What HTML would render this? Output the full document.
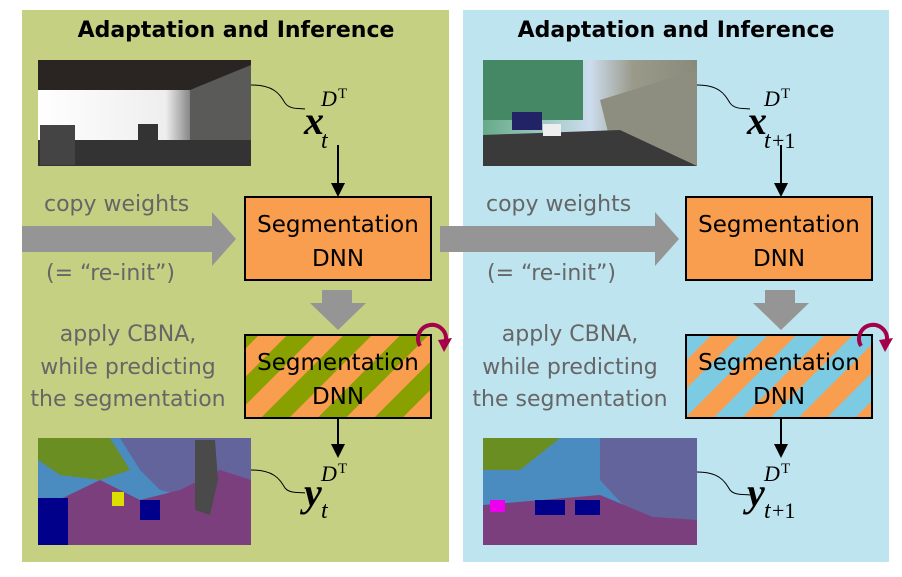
<!DOCTYPE html>
<html><head><meta charset="utf-8"><style>
body{margin:0;width:902px;height:572px;background:#fff;overflow:hidden}
</style></head><body>
<svg width="902" height="572" viewBox="0 0 902 572" xmlns="http://www.w3.org/2000/svg" font-family="DejaVu Sans, Liberation Sans, sans-serif">
<defs>
<pattern id="sg" width="40" height="40" patternUnits="userSpaceOnUse" patternTransform="rotate(45)">
<rect width="40" height="40" fill="#f99d4e"/><rect width="20" height="40" fill="#88a000"/></pattern>
<pattern id="sb" width="40" height="40" patternUnits="userSpaceOnUse" patternTransform="rotate(45)">
<rect width="40" height="40" fill="#f99d4e"/><rect width="20" height="40" fill="#7ccbe2"/></pattern>
<linearGradient id="tun" x1="0" y1="0" x2="1" y2="0"><stop offset="0" stop-color="#fff"/><stop offset="0.6" stop-color="#eee"/><stop offset="0.75" stop-color="#666"/><stop offset="1" stop-color="#555"/></linearGradient>
<linearGradient id="hw" x1="0" y1="0" x2="1" y2="0"><stop offset="0" stop-color="#6a8"/><stop offset="0.5" stop-color="#cde"/><stop offset="0.7" stop-color="#9a9a8a"/><stop offset="1" stop-color="#8a8a7a"/></linearGradient>
</defs>
<rect x="22" y="10" width="427" height="552" fill="#c5d083"/>
<rect x="463" y="10" width="426" height="552" fill="#bee4ef"/>
<text x="236" y="37" font-size="22" font-weight="bold" text-anchor="middle">Adaptation and Inference</text>
<text x="676" y="37" font-size="22" font-weight="bold" text-anchor="middle">Adaptation and Inference</text>

<!-- image 1 -->
<rect x="38" y="60" width="213" height="106" fill="url(#tun)"/>
<rect x="38" y="60" width="213" height="30" fill="#2a2522"/>
<polygon points="190,90 251,65 251,166 190,150" fill="#5a5a58"/>
<polygon points="38,140 251,140 251,166 38,166" fill="#333"/>
<rect x="40" y="125" width="35" height="40" fill="#444"/><rect x="138" y="124" width="20" height="16" fill="#333"/>
<!-- image 2 -->
<rect x="483" y="60" width="214" height="106" fill="url(#hw)"/>
<rect x="483" y="60" width="100" height="60" fill="#486"/>
<polygon points="600,100 697,70 697,166 610,140" fill="#8e8e80"/>
<polygon points="483,135 620,130 697,166 483,166" fill="#3a3a3a"/>
<rect x="512" y="112" width="30" height="18" fill="#226"/>
<rect x="543" y="124" width="18" height="12" fill="#eee"/>
<!-- seg 1 -->
<rect x="38" y="438" width="213" height="107" fill="#64649c"/>
<path d="M38 438 H120 L140 470 L160 490 L200 500 L230 480 L251 480 V545 H38Z" fill="#4a8bc0"/>
<path d="M38 438 H110 L130 470 L100 480 L60 475 L38 460Z" fill="#6b8e23"/>
<path d="M100 480 L140 500 L180 490 L220 470 L251 480 V545 H38 V510Z" fill="#7c3f7e"/>
<rect x="38" y="498" width="30" height="47" fill="#00008b"/>
<rect x="140" y="500" width="20" height="20" fill="#00008b"/>
<path d="M195 440 L215 440 L218 480 L210 515 L195 510Z" fill="#4a4a4a"/>
<rect x="112" y="492" width="12" height="14" fill="#dd0"/>
<!-- seg 2 -->
<rect x="483" y="438" width="214" height="107" fill="#4a8bc0"/>
<polygon points="600,438 697,438 697,545 660,545 600,480" fill="#64649c"/>
<polygon points="483,438 560,438 520,470 483,470" fill="#6b8e23"/>
<polygon points="483,505 697,520 697,545 483,545" fill="#7c3f7e"/>
<path d="M483 505 L600 495 L660 520 L483 520Z" fill="#7c3f7e"/>
<rect x="535" y="500" width="30" height="15" fill="#00008b"/><rect x="575" y="500" width="25" height="15" fill="#00008b"/>
<rect x="490" y="500" width="15" height="12" fill="#e0e"/>

<!-- wiggly lines -->
<path d="M251 85 C275 85 280 95 285 103 C290 110 300 108 305 109" fill="none" stroke="#000" stroke-width="1"/>
<path d="M697 85 C720 85 725 95 730 103 C735 110 745 108 750 109" fill="none" stroke="#000" stroke-width="1"/>
<path d="M251 470 C275 470 280 480 285 488 C290 494 300 492 305 493" fill="none" stroke="#000" stroke-width="1"/>
<path d="M697 472 C720 472 725 482 730 490 C735 496 745 494 750 495" fill="none" stroke="#000" stroke-width="1"/>

<!-- labels -->
<g style="font-family:'Liberation Serif',serif;font-style:italic">
<text x="304" y="134" font-size="40" font-weight="bold">x</text>
<text x="321" y="148" font-size="24">t</text>
<text x="321" y="106" font-size="22">D</text><text x="338" y="98" font-size="15" style="font-style:normal">T</text>
<text x="747" y="134" font-size="40" font-weight="bold">x</text>
<text x="764" y="148" font-size="24">t</text><text x="772" y="148" font-size="22" style="font-style:normal">+1</text>
<text x="764" y="106" font-size="22">D</text><text x="781" y="98" font-size="15" style="font-style:normal">T</text>
<text x="304" y="506" font-size="40" font-weight="bold">y</text>
<text x="321" y="518" font-size="24">t</text>
<text x="321" y="481" font-size="22">D</text><text x="338" y="473" font-size="15" style="font-style:normal">T</text>
<text x="747" y="506" font-size="40" font-weight="bold">y</text>
<text x="764" y="518" font-size="24">t</text><text x="772" y="518" font-size="22" style="font-style:normal">+1</text>
<text x="764" y="481" font-size="22">D</text><text x="781" y="473" font-size="15" style="font-style:normal">T</text>
</g>

<!-- gray arrows -->
<polygon points="22,226 212,226 212,212 236,239 212,266 212,252 22,252" fill="#959595"/>
<polygon points="440,226 655,226 655,212 679,239 655,266 655,252 440,252" fill="#959595"/>
<polygon points="322,290 352,290 352,303 366,303 338,330 310,303 322,303" fill="#959595"/>
<polygon points="765,290 795,290 795,303 809,303 781,330 753,303 765,303" fill="#959595"/>

<!-- gray text -->
<g fill="#666" font-size="22">
<text x="44" y="211">copy weights</text>
<text x="46" y="280">(= “re-init”)</text>
<text x="486" y="211">copy weights</text>
<text x="487" y="280">(= “re-init”)</text>
<g text-anchor="middle">
<text x="128" y="341">apply CBNA,</text><text x="128" y="374">while predicting</text><text x="128" y="406">the segmentation</text>
<text x="570" y="341">apply CBNA,</text><text x="570" y="374">while predicting</text><text x="570" y="406">the segmentation</text>
</g></g>

<!-- black arrows -->
<g stroke="#000" stroke-width="2"><line x1="338" y1="145" x2="338" y2="185"/><line x1="781" y1="145" x2="781" y2="185"/>
<line x1="338" y1="418" x2="338" y2="446"/><line x1="781" y1="418" x2="781" y2="446"/></g>
<polygon points="331,183 345,183 338,197" fill="#000"/><polygon points="774,183 788,183 781,197" fill="#000"/>
<polygon points="331,444 345,444 338,458" fill="#000"/><polygon points="774,444 788,444 781,458" fill="#000"/>

<!-- boxes -->
<rect x="245" y="197" width="186" height="83" fill="#f99d4e" stroke="#000" stroke-width="2"/>
<rect x="686" y="197" width="186" height="83" fill="#f99d4e" stroke="#000" stroke-width="2"/>
<rect x="245" y="335" width="186" height="83" fill="url(#sg)" stroke="#000" stroke-width="2"/>
<rect x="686" y="335" width="186" height="83" fill="url(#sb)" stroke="#000" stroke-width="2"/>
<g font-size="23" text-anchor="middle">
<text x="338" y="232">Segmentation</text><text x="338" y="266">DNN</text>
<text x="779" y="232">Segmentation</text><text x="779" y="266">DNN</text>
<text x="338" y="370">Segmentation</text><text x="338" y="404">DNN</text>
<text x="779" y="370">Segmentation</text><text x="779" y="404">DNN</text>
</g>
<!-- circular arrows -->
<path d="M420 346 A14 14 0 1 1 446 340" fill="none" stroke="#a5004a" stroke-width="4"/>
<polygon points="438,340 452,338 444,352" fill="#a5004a"/>
<path d="M861 346 A14 14 0 1 1 887 340" fill="none" stroke="#a5004a" stroke-width="4"/>
<polygon points="879,340 893,338 885,352" fill="#a5004a"/>
</svg>
</body></html>
